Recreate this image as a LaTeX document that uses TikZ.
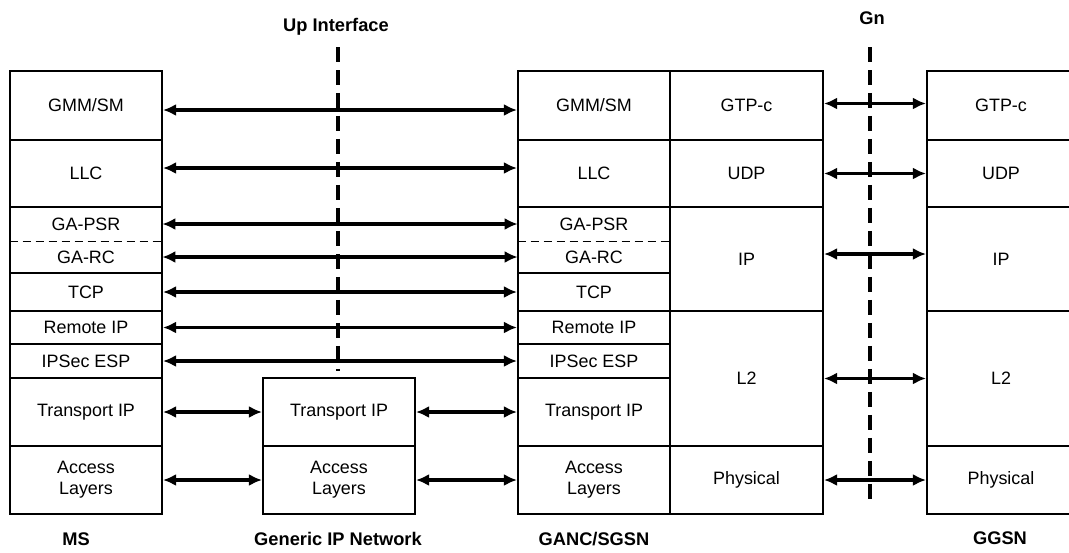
\documentclass[tikz,border=0pt]{standalone}
\usepackage{fontspec}
\setmainfont{Liberation Sans}
\usetikzlibrary{arrows.meta,positioning}
\tikzset{
  layerbox/.style={draw=black,line width=1.2pt,minimum width=3.04cm,
    inner sep=1pt,align=center,font=\fontsize{10.2}{12}\selectfont},
  layertext/.style={minimum width=3.04cm,inner sep=1pt,align=center,
    font=\fontsize{10.2}{12}\selectfont},
  peerarrow/.style={{Latex[length=2.6mm,width=2.4mm]}-{Latex[length=2.6mm,width=2.4mm]},
    line width=2pt},
  ifline/.style={line width=2.2pt,dash pattern=on 3mm off 1.6mm},
  entitylabel/.style={font=\fontsize{10.4}{12}\selectfont\bfseries},
}

\begin{document}
\begin{tikzpicture}[x=0.02cm,y=-0.02cm]
  \useasboundingbox (0,0) rectangle (1069,552);
  \clip (0,0) rectangle (1069,552);
  % MS
  \node[layerbox,minimum height=1.38cm] (msGmm) at (86,105.5) {GMM/SM};
  \node[layerbox,minimum height=1.34cm] (msLlc) at (86,173.5) {LLC};
  \node[layertext,minimum height=0.68cm] (msPsr) at (86,224) {GA-PSR};
  \node[layertext,minimum height=0.64cm] (msRc) at (86,257) {GA-RC};
  \node[layerbox,minimum height=0.76cm] (msTcp) at (86,292) {TCP};
  \node[layerbox,minimum height=0.66cm] (msRip) at (86,327.5) {Remote IP};
  \node[layerbox,minimum height=0.68cm] (msEsp) at (86,361) {IPSec ESP};
  \node[layerbox,minimum height=1.36cm] (msTip) at (86,412) {Transport IP};
  \node[layerbox,minimum height=1.36cm] (msAcc) at (86,480) {Access\\Layers};
  \draw[line width=1.2pt] (msPsr.north west) rectangle (msRc.south east);
  \draw[line width=0.8pt,dash pattern=on 1.6mm off 1mm] (msPsr.south west) -- (msPsr.south east);
  % Generic IP Network
  \node[layerbox,minimum height=1.36cm] (ipTip) at (339,412) {Transport IP};
  \node[layerbox,minimum height=1.36cm] (ipAcc) at (339,480) {Access\\Layers};
  % GANC/SGSN
  \node[layerbox,minimum height=1.38cm] (gaGmm) at (594,105.5) {GMM/SM};
  \node[layerbox,minimum height=1.34cm] (gaLlc) at (594,173.5) {LLC};
  \node[layertext,minimum height=0.68cm] (gaPsr) at (594,224) {GA-PSR};
  \node[layertext,minimum height=0.64cm] (gaRc) at (594,257) {GA-RC};
  \node[layerbox,minimum height=0.76cm] (gaTcp) at (594,292) {TCP};
  \node[layerbox,minimum height=0.66cm] (gaRip) at (594,327.5) {Remote IP};
  \node[layerbox,minimum height=0.68cm] (gaEsp) at (594,361) {IPSec ESP};
  \node[layerbox,minimum height=1.36cm] (gaTip) at (594,412) {Transport IP};
  \node[layerbox,minimum height=1.36cm] (gaAcc) at (594,480) {Access\\Layers};
  \draw[line width=1.2pt] (gaPsr.north west) rectangle (gaRc.south east);
  \draw[line width=0.8pt,dash pattern=on 1.6mm off 1mm] (gaPsr.south west) -- (gaPsr.south east);
  \node[layerbox,minimum width=3.06cm,minimum height=1.38cm] (gaGtp) at (746.5,105.5) {GTP-c};
  \node[layerbox,minimum width=3.06cm,minimum height=1.34cm] (gaUdp) at (746.5,173.5) {UDP};
  \node[layerbox,minimum width=3.06cm,minimum height=2.08cm] (gaIp) at (746.5,259) {IP};
  \node[layerbox,minimum width=3.06cm,minimum height=2.70cm] (gaL2) at (746.5,378.5) {L2};
  \node[layerbox,minimum width=3.06cm,minimum height=1.36cm] (gaPhy) at (746.5,480) {Physical};
  % GGSN
  \node[layerbox,minimum width=2.96cm,minimum height=1.38cm] (ggGtp) at (1001,105.5) {GTP-c};
  \node[layerbox,minimum width=2.96cm,minimum height=1.34cm] (ggUdp) at (1001,173.5) {UDP};
  \node[layerbox,minimum width=2.96cm,minimum height=2.08cm] (ggIp) at (1001,259) {IP};
  \node[layerbox,minimum width=2.96cm,minimum height=2.70cm] (ggL2) at (1001,378.5) {L2};
  \node[layerbox,minimum width=2.96cm,minimum height=1.36cm] (ggPhy) at (1001,480) {Physical};
  % interfaces
  \node[entitylabel] (upLabel) at (336,27) {Up Interface};
  \node[entitylabel] (gnLabel) at (872,18) {Gn};
  \coordinate (upTop) at (338,47);
  \coordinate (upEnd) at (338,371);
  \coordinate (gnTop) at (870,47);
  \coordinate (gnEnd) at (870,503);
  \draw[ifline] (upTop) -- (upEnd);
  \draw[ifline] (gnTop) -- (gnEnd);
  % peer arrows
  \draw[peerarrow] ([yshift=-0.09cm]msGmm.east) -- ([yshift=-0.09cm]gaGmm.west);
  \draw[peerarrow] ([yshift=0.11cm]msLlc.east) -- ([yshift=0.11cm]gaLlc.west);
  \draw[peerarrow] (msPsr.east) -- (gaPsr.west);
  \draw[peerarrow] (msRc.east) -- (gaRc.west);
  \draw[peerarrow] (msTcp.east) -- (gaTcp.west);
  \draw[peerarrow] (msRip.east) -- (gaRip.west);
  \draw[peerarrow] (msEsp.east) -- (gaEsp.west);
  \draw[peerarrow] (msTip.east) -- (ipTip.west);
  \draw[peerarrow] (ipTip.east) -- (gaTip.west);
  \draw[peerarrow] (msAcc.east) -- (ipAcc.west);
  \draw[peerarrow] (ipAcc.east) -- (gaAcc.west);
  \draw[peerarrow] ([yshift=0.04cm]gaGtp.east) -- ([yshift=0.04cm]ggGtp.west);
  \draw[peerarrow] (gaUdp.east) -- (ggUdp.west);
  \draw[peerarrow] ([yshift=0.1cm]gaIp.east) -- ([yshift=0.1cm]ggIp.west);
  \draw[peerarrow] (gaL2.east) -- (ggL2.west);
  \draw[peerarrow] (gaPhy.east) -- (ggPhy.west);
  % entity names
  \node[entitylabel] (msName) at (76,539) {MS};
  \node[entitylabel] (ipName) at (338,539) {Generic IP Network};
  \node[entitylabel] (gaName) at (594,539) {GANC/SGSN};
  \node[entitylabel] (ggName) at (1000,538) {GGSN};
\end{tikzpicture}
\end{document}
